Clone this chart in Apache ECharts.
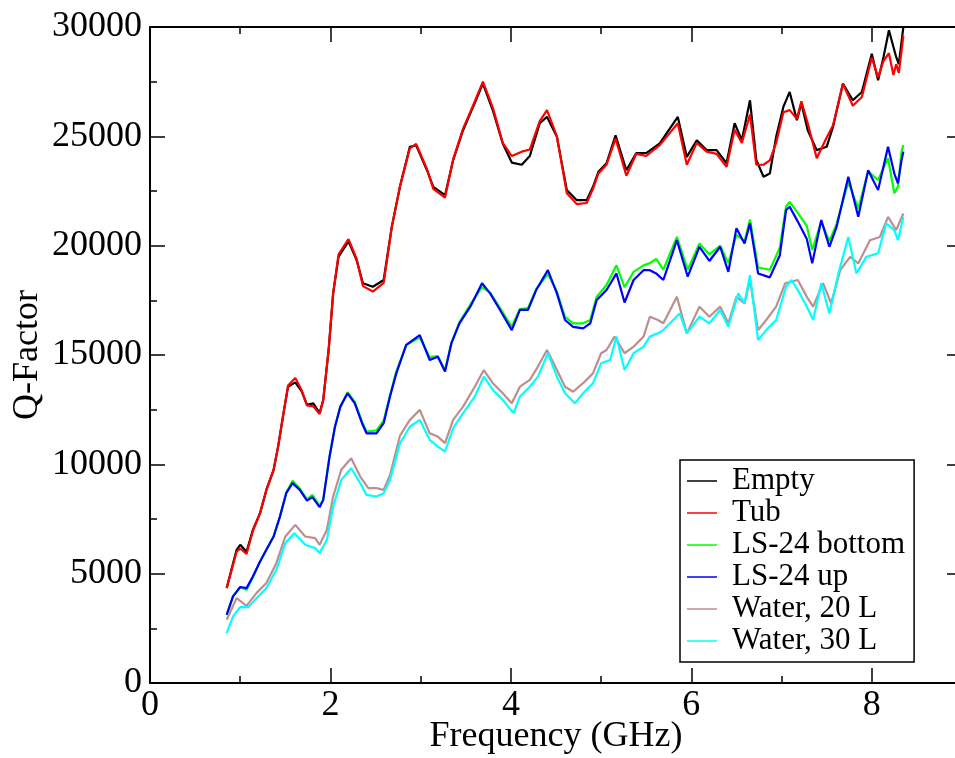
<!DOCTYPE html>
<html>
<head>
<meta charset="utf-8">
<script src="https://cdn.jsdelivr.net/npm/echarts@6/dist/echarts.min.js"></script>
<style>
html,body{margin:0;padding:0;background:#fff;}
#chart{width:955px;height:758px;}
</style>
</head>
<body>
<div id="chart"></div>
<script>
// ---- data (GHz, Q-factor) ----
const seriesNames = ['Empty', 'Tub', 'LS-24 bottom', 'LS-24 up', 'Water, 20 L', 'Water, 30 L'];
const seriesColors = ['#000000', '#ff0000', '#00ff00', '#0000ff', '#bc8f8f', '#00ffff'];

const emptyData = [[0.85,4340],[0.96,6090],[1.00,6320],[1.07,6000],[1.14,7000],[1.22,7770],[1.29,8830],[1.37,9750],[1.42,10810],[1.48,12340],[1.53,13550],[1.61,13750],[1.68,13350],[1.74,12720],[1.81,12790],[1.88,12340],[1.92,12940],[1.98,15230],[2.03,17820],[2.09,19500],[2.20,20200],[2.29,19340],[2.36,18280],[2.47,18120],[2.59,18430],[2.68,20860],[2.77,22690],[2.88,24520],[2.95,24590],[3.07,23450],[3.14,22690],[3.27,22310],[3.36,23910],[3.47,25280],[3.58,26340],[3.69,27410],[3.80,26190],[3.91,24670],[4.01,23800],[4.12,23700],[4.21,24100],[4.32,25600],[4.40,25890],[4.51,24975],[4.62,22540],[4.73,22080],[4.84,22080],[4.91,22690],[4.97,23375],[5.06,23770],[5.16,25050],[5.28,23450],[5.39,24230],[5.50,24230],[5.65,24680],[5.85,25890],[5.95,24060],[6.06,24820],[6.17,24370],[6.28,24370],[6.39,23770],[6.48,25600],[6.56,24820],[6.65,26650],[6.72,23920],[6.80,23150],[6.87,23300],[6.94,24975],[7.02,26345],[7.09,27030],[7.17,25740],[7.22,26510],[7.29,25280],[7.39,24370],[7.50,24520],[7.57,25430],[7.68,27410],[7.79,26650],[7.89,27030],[8.00,28780],[8.07,27560],[8.13,28630],[8.19,29850],[8.27,28630],[8.30,28300],[8.35,30000]];

const tubData = [[0.85,4340],[0.96,6000],[1.00,6150],[1.07,5900],[1.14,6950],[1.22,7770],[1.29,8830],[1.37,9750],[1.42,10810],[1.48,12340],[1.53,13600],[1.61,13950],[1.68,13400],[1.74,12700],[1.81,12650],[1.88,12300],[1.92,12940],[1.98,15230],[2.03,17820],[2.09,19600],[2.20,20300],[2.29,19400],[2.36,18150],[2.47,17900],[2.59,18300],[2.68,20860],[2.77,22690],[2.88,24450],[2.95,24650],[3.07,23500],[3.14,22600],[3.27,22200],[3.36,23950],[3.47,25350],[3.58,26400],[3.69,27500],[3.80,26300],[3.91,24700],[4.01,24100],[4.12,24300],[4.21,24400],[4.32,25700],[4.40,26200],[4.51,25000],[4.62,22400],[4.73,21900],[4.84,21950],[4.91,22600],[4.97,23300],[5.06,23700],[5.16,24900],[5.28,23200],[5.39,24200],[5.50,24100],[5.65,24600],[5.85,25600],[5.95,23700],[6.06,24700],[6.17,24300],[6.28,24200],[6.39,23600],[6.48,25300],[6.56,24700],[6.65,26000],[6.72,23700],[6.80,23700],[6.87,23900],[6.94,24700],[7.02,26100],[7.09,26200],[7.17,25800],[7.22,26600],[7.29,25600],[7.39,24000],[7.50,24950],[7.57,25500],[7.68,27400],[7.79,26400],[7.89,26800],[8.00,28600],[8.07,27700],[8.13,28450],[8.19,28800],[8.24,27800],[8.27,28300],[8.30,27900],[8.35,29600]];

const ls24BottomData = [[0.85,3120],[0.92,3960],[1.00,4390],[1.07,4250],[1.14,4820],[1.22,5560],[1.29,6090],[1.37,6700],[1.44,7610],[1.51,8700],[1.58,9250],[1.66,8900],[1.74,8400],[1.80,8600],[1.88,8100],[1.92,8375],[1.99,10350],[2.05,11720],[2.11,12640],[2.19,13300],[2.27,12850],[2.35,11950],[2.40,11500],[2.51,11550],[2.59,12000],[2.66,13150],[2.73,14250],[2.84,15450],[2.99,15800],[3.10,14900],[3.19,14950],[3.27,14300],[3.34,15550],[3.43,16500],[3.55,17300],[3.68,18100],[3.77,17850],[3.88,17150],[4.01,16300],[4.10,17100],[4.19,17150],[4.28,18000],[4.41,18700],[4.51,17900],[4.60,16750],[4.69,16450],[4.80,16450],[4.88,16600],[4.95,17650],[5.06,18200],[5.17,19100],[5.26,18100],[5.36,18800],[5.47,19100],[5.54,19200],[5.61,19400],[5.69,18900],[5.84,20400],[5.96,18900],[6.09,20100],[6.20,19600],[6.32,20000],[6.41,19200],[6.50,20500],[6.59,20200],[6.65,21200],[6.74,19000],[6.87,18900],[6.98,19900],[7.05,21800],[7.09,22000],[7.18,21500],[7.28,20900],[7.34,19800],[7.44,21100],[7.53,20200],[7.61,21000],[7.74,22900],[7.85,21700],[7.96,23400],[8.07,23000],[8.18,24000],[8.25,22400],[8.29,22700],[8.33,24300],[8.35,24600]];

const ls24UpData = [[0.85,3120],[0.92,3960],[1.00,4390],[1.07,4340],[1.14,4870],[1.22,5560],[1.29,6090],[1.37,6700],[1.44,7610],[1.51,8680],[1.58,9140],[1.66,8830],[1.74,8340],[1.80,8500],[1.88,8040],[1.92,8375],[1.99,10350],[2.05,11720],[2.11,12640],[2.19,13250],[2.27,12790],[2.35,11880],[2.40,11420],[2.51,11420],[2.59,11880],[2.66,13100],[2.73,14160],[2.84,15460],[2.99,15910],[3.10,14770],[3.19,14920],[3.27,14240],[3.34,15530],[3.43,16450],[3.55,17210],[3.68,18280],[3.77,17820],[3.88,17060],[4.01,16140],[4.10,17060],[4.19,17060],[4.28,17970],[4.41,18880],[4.51,17820],[4.60,16600],[4.69,16290],[4.80,16220],[4.88,16450],[4.95,17510],[5.06,17970],[5.17,18730],[5.26,17400],[5.36,18430],[5.47,18880],[5.54,18880],[5.61,18730],[5.69,18430],[5.84,20250],[5.96,18580],[6.09,19950],[6.20,19300],[6.32,19950],[6.41,18800],[6.50,20800],[6.59,20100],[6.65,21020],[6.74,18730],[6.87,18550],[6.98,19550],[7.05,21630],[7.09,21780],[7.18,21100],[7.28,20300],[7.34,19190],[7.44,21170],[7.53,19950],[7.61,20860],[7.74,23150],[7.85,21320],[7.96,23450],[8.07,22540],[8.18,24520],[8.25,23300],[8.29,22850],[8.33,23910],[8.35,24300]];

const water20Data = [[0.85,2890],[0.96,3880],[1.07,3530],[1.18,4110],[1.29,4570],[1.40,5480],[1.50,6700],[1.61,7230],[1.72,6700],[1.83,6625],[1.88,6320],[1.96,7000],[2.03,8530],[2.12,9750],[2.23,10280],[2.33,9440],[2.42,8910],[2.51,8910],[2.59,8830],[2.66,9500],[2.77,11300],[2.88,12030],[2.99,12490],[3.10,11420],[3.19,11270],[3.27,10970],[3.36,12030],[3.47,12640],[3.60,13550],[3.70,14310],[3.80,13710],[3.91,13250],[4.01,12790],[4.10,13550],[4.21,13860],[4.30,14470],[4.40,15230],[4.51,14310],[4.60,13550],[4.69,13320],[4.80,13710],[4.91,14160],[5.00,15080],[5.06,15230],[5.15,15840],[5.26,15080],[5.36,15380],[5.47,15840],[5.54,16750],[5.63,16600],[5.69,16450],[5.84,17660],[5.95,15990],[6.09,17210],[6.20,16750],[6.32,17210],[6.41,16450],[6.50,17660],[6.59,17360],[6.65,18430],[6.74,16140],[6.83,16600],[6.94,17210],[7.04,18280],[7.18,18430],[7.28,17660],[7.35,17210],[7.46,18280],[7.55,17360],[7.65,18880],[7.76,19490],[7.85,19190],[7.98,20250],[8.09,20400],[8.18,21320],[8.27,20710],[8.35,21470]];

const water30Data = [[0.85,2280],[0.92,3040],[1.00,3470],[1.09,3470],[1.18,3880],[1.29,4340],[1.40,5180],[1.50,6400],[1.60,6850],[1.72,6320],[1.83,6170],[1.88,5940],[1.96,6550],[2.03,8070],[2.12,9290],[2.23,9820],[2.33,9140],[2.40,8600],[2.51,8530],[2.59,8680],[2.66,9290],[2.77,10950],[2.88,11720],[2.99,12030],[3.10,11120],[3.19,10810],[3.27,10580],[3.36,11650],[3.47,12340],[3.60,13100],[3.70,14010],[3.80,13400],[3.91,12940],[4.03,12340],[4.10,13100],[4.21,13550],[4.30,14010],[4.41,15080],[4.51,14010],[4.60,13250],[4.71,12790],[4.80,13250],[4.91,13710],[5.00,14620],[5.10,14770],[5.17,15840],[5.26,14310],[5.36,15080],[5.47,15380],[5.54,15840],[5.63,15990],[5.69,16140],[5.87,16900],[5.95,15990],[6.09,16750],[6.20,16450],[6.32,17060],[6.41,16290],[6.52,17820],[6.59,17360],[6.65,18650],[6.74,15680],[6.83,16140],[6.94,16600],[7.05,18120],[7.11,18430],[7.18,17970],[7.28,17210],[7.35,16600],[7.44,18280],[7.53,16900],[7.63,18730],[7.74,20400],[7.83,18730],[7.94,19490],[8.07,19650],[8.16,21020],[8.25,20710],[8.29,20250],[8.35,21320]];

const allData = [emptyData, tubData, ls24BottomData, ls24UpData, water20Data, water30Data];

// axis settings
const xMin = 0, xMax = 9, xStep = 2;
const yMin = 0, yMax = 30000, yStep = 5000;

// ---- chart ----
const FONT = 'Liberation Serif';
const chart = echarts.init(document.getElementById('chart'), null, {renderer: 'canvas'});

function axisBase(extra) {
  return Object.assign({
    type: 'value',
    axisLine: {show: true, onZero: false, lineStyle: {color: '#000', width: 2}},
    axisTick: {show: true, inside: true, length: 15, lineStyle: {color: '#000', width: 1.5}},
    minorTick: {show: true, splitNumber: 2, length: 7, lineStyle: {color: '#000', width: 1.5}},
    splitLine: {show: false},
    minorSplitLine: {show: false}
  }, extra);
}

const plainNum = v => String(Math.round(v));

const option = {
  backgroundColor: '#ffffff',
  animation: false,
  grid: {left: 150, top: 27, width: 812, height: 656, containLabel: false, outerBoundsMode: 'none'},
  legend: {
    orient: 'vertical',
    left: 680,
    top: 460,
    padding: [5, 9, 5, 7],
    itemGap: 0,
    itemWidth: 30,
    itemHeight: 1.5,
    icon: 'rect',
    borderColor: '#000',
    borderWidth: 1.5,
    backgroundColor: '#fff',
    data: seriesNames,
    textStyle: {fontFamily: FONT, fontSize: 31, color: '#000', lineHeight: 32, padding: [0, 0, 0, 10]}
  },
  xAxis: [
    axisBase({
      position: 'bottom', min: xMin, max: xMax, interval: xStep,
      name: 'Frequency (GHz)', nameLocation: 'middle', nameGap: 36, nameMoveOverlap: false,
      nameTextStyle: {fontFamily: FONT, fontSize: 36, color: '#000'},
      axisLabel: {fontFamily: FONT, fontSize: 36, color: '#000', margin: 5, showMaxLabel: false, formatter: plainNum}
    }),
    axisBase({
      position: 'top', min: xMin, max: xMax, interval: xStep,
      axisLabel: {show: false}
    })
  ],
  yAxis: [
    axisBase({
      position: 'left', min: yMin, max: yMax, interval: yStep,
      name: 'Q-Factor', nameLocation: 'middle', nameGap: 104, nameMoveOverlap: false,
      nameTextStyle: {fontFamily: FONT, fontSize: 36, color: '#000'},
      axisLabel: {fontFamily: FONT, fontSize: 36, color: '#000', margin: 8, formatter: plainNum}
    }),
    axisBase({
      position: 'right', min: yMin, max: yMax, interval: yStep,
      axisLabel: {show: false}
    })
  ],
  series: seriesNames.map((name, i) => ({
    name: name,
    type: 'line',
    data: allData[i],
    xAxisIndex: 0,
    yAxisIndex: 0,
    showSymbol: false,
    symbol: 'none',
    smooth: false,
    color: seriesColors[i],
    lineStyle: {color: seriesColors[i], width: 2.2},
    z: 2 + i
  }))
};
chart.setOption(option);
</script>
</body>
</html>
